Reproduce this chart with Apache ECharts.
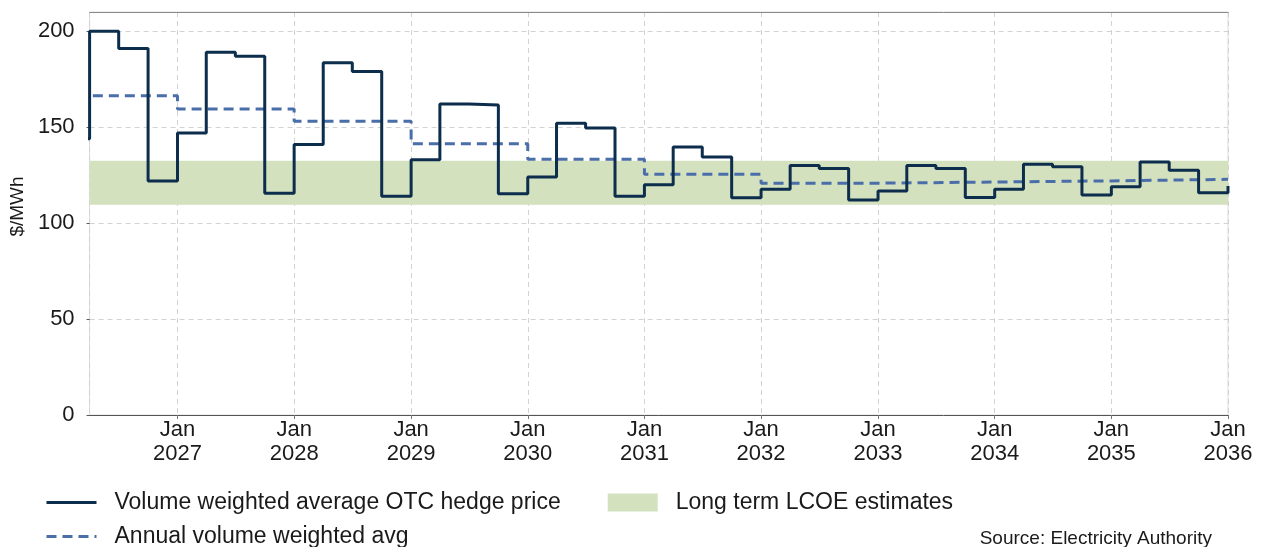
<!DOCTYPE html>
<html>
<head>
<meta charset="utf-8">
<script src="https://cdn.jsdelivr.net/npm/echarts@6/dist/echarts.min.js"></script>
<style>
html,body{margin:0;padding:0;background:#fff;}
#chart{width:1262px;height:547px;}
</style>
</head>
<body>
<div id="chart"></div>
<script>
// ---- data ----
const quarterStarts = [
  '2026-01-01','2026-04-01','2026-07-01','2026-10-01',
  '2027-01-01','2027-04-01','2027-07-01','2027-10-01',
  '2028-01-01','2028-04-01','2028-07-01','2028-10-01',
  '2029-01-01','2029-04-01','2029-07-01','2029-10-01',
  '2030-01-01','2030-04-01','2030-07-01','2030-10-01',
  '2031-01-01','2031-04-01','2031-07-01','2031-10-01',
  '2032-01-01','2032-04-01','2032-07-01','2032-10-01',
  '2033-01-01','2033-04-01','2033-07-01','2033-10-01',
  '2034-01-01','2034-04-01','2034-07-01','2034-10-01',
  '2035-01-01','2035-04-01','2035-07-01','2035-10-01',
  '2036-01-01'
];
const hedgePrice = [
  144, 200, 191, 122,
  147, 189, 187, 115.5,
  141, 183.5, 179, 114,
  133, 162, 161.5, 115.3,
  124, 152, 149.5, 114,
  120, 139.6, 134.4, 113.2,
  117.7, 130, 128.5, 112,
  116.7, 130, 128.5, 113.4,
  117.7, 130.6, 129.3, 114.6,
  119, 131.8, 127.6, 115.8,
  119.3
];
const yearStarts = [
  '2026-01-01','2027-01-01','2028-01-01','2029-01-01','2030-01-01',
  '2031-01-01','2032-01-01','2033-01-01','2034-01-01','2035-01-01','2036-01-01'
];
const annualAvg = [166.3, 159.4, 153.1, 141.3, 133.3, 125.4, 120.8, 121.4, 122.0, 122.8, 122.8];
const lcoeLow = 109.5;
const lcoeHigh = 132.5;
const xTickMonth = 'Jan';
const xTickYears = [2027, 2028, 2029, 2030, 2031, 2032, 2033, 2034, 2035, 2036];
const yTicks = [0, 50, 100, 150, 200];

const seriesNames = {
  hedge: 'Volume weighted average OTC hedge price',
  annual: 'Annual volume weighted avg',
  lcoe: 'Long term LCOE estimates'
};
const sourceText = 'Source: Electricity Authority';
const yAxisTitle = '$/MWh';

// ---- styles ----
const FONT = "'Liberation Sans', Arial, Helvetica, sans-serif";
const C_HEDGE = '#0c2d4c';
const C_ANNUAL = '#4a6ea9';
const C_LCOE = '#d4e1bf';
const C_GRID = '#d2d2d2';

const chart = echarts.init(document.getElementById('chart'), null, {renderer: 'canvas'});

const option = {
  animation: false,
  backgroundColor: '#ffffff',
  textStyle: {fontFamily: FONT},
  grid: {
    left: 88, right: 34, top: 12, bottom: 132,
    show: true, borderColor: '#dcdcdc', borderWidth: 1, backgroundColor: 'transparent'
  },
  xAxis: [{
    type: 'time',
    min: '2026-04-01',
    max: '2036-01-01',
    minInterval: 365 * 24 * 3600 * 1000,
    maxInterval: 366 * 24 * 3600 * 1000,
    axisLine: {show: true, lineStyle: {color: '#555555', width: 1}},
    axisTick: {show: true, length: 4, lineStyle: {color: '#777777'}},
    splitLine: {show: true, lineStyle: {color: C_GRID, type: [5, 4], width: 1}},
    axisLabel: {
      show: true,
      showMinLabel: false,
      showMaxLabel: true,
      hideOverlap: false,
      margin: 3,
      color: '#1a1a1a',
      fontSize: 22,
      lineHeight: 24,
      fontFamily: FONT,
      formatter: function (v) {
        const y = new Date(v).getFullYear();
        return xTickYears.indexOf(y) >= 0 ? xTickMonth + '\n' + y : '';
      }
    }
  }, {
    type: 'value', position: 'top', min: 0, max: 1,
    axisLine: {show: true, lineStyle: {color: '#8a8a8a', width: 1}},
    axisTick: {show: false}, axisLabel: {show: false}, splitLine: {show: false}
  }],
  yAxis: {
    type: 'value',
    min: 0, max: 210, interval: 50,
    name: yAxisTitle,
    nameLocation: 'middle',
    nameGap: 58,
    nameTextStyle: {fontSize: 19, color: '#1a1a1a', fontFamily: FONT, padding: [0, 0, 0, 14]},
    axisLine: {show: false},
    axisTick: {show: true, length: 3, lineStyle: {color: '#555555'}},
    splitLine: {show: true, lineStyle: {color: C_GRID, type: [5, 4], width: 1}},
    axisLabel: {
      showMaxLabel: false,
      margin: 15, color: '#1a1a1a', fontSize: 22, fontFamily: FONT,
      formatter: function (v) { return yTicks.indexOf(v) >= 0 ? String(v) : ''; }
    }
  },
  legend: [{
    left: 45, top: 491, orient: 'horizontal', padding: 0,
    itemWidth: 50, itemHeight: 18, itemGap: 47,
    textStyle: {fontSize: 23, color: '#1a1a1a', fontFamily: FONT, padding: [0, 0, 0, 13]},
    data: [
      {name: seriesNames.hedge, itemStyle: {opacity: 0}, lineStyle: {width: 3}},
      {name: seriesNames.lcoe, icon: 'rect'}
    ]
  }, {
    left: 45, top: 525, orient: 'horizontal', padding: 0,
    itemWidth: 50, itemHeight: 18,
    textStyle: {fontSize: 23, color: '#1a1a1a', fontFamily: FONT, padding: [0, 0, 0, 13]},
    data: [{name: seriesNames.annual, itemStyle: {opacity: 0}, lineStyle: {width: 3}}]
  }],
  graphic: [{
    type: 'text',
    right: 50, top: 529,
    style: {text: sourceText, fontSize: 19, fill: '#1a1a1a', fontFamily: FONT}
  }],
  series: [{
    name: seriesNames.lcoe,
    type: 'line',
    data: [],
    z: 1,
    itemStyle: {color: C_LCOE},
    lineStyle: {color: C_LCOE},
    markArea: {
      silent: true,
      itemStyle: {color: C_LCOE, opacity: 1},
      data: [[{yAxis: lcoeLow}, {yAxis: lcoeHigh}]]
    }
  }, {
    name: seriesNames.annual,
    type: 'line',
    step: 'end',
    z: 3,
    clip: true,
    symbol: 'none',
    showSymbol: false,
    itemStyle: {color: C_ANNUAL},
    lineStyle: {color: C_ANNUAL, width: 3, type: [10, 6]},
    data: yearStarts.map((d, i) => [d, annualAvg[i]])
  }, {
    name: seriesNames.hedge,
    type: 'line',
    step: 'end',
    z: 4,
    clip: true,
    symbol: 'none',
    showSymbol: false,
    itemStyle: {color: C_HEDGE},
    lineStyle: {color: C_HEDGE, width: 3},
    data: quarterStarts.map((d, i) => [d, hedgePrice[i]])
  }]
};
chart.setOption(option);
</script>
</body>
</html>
